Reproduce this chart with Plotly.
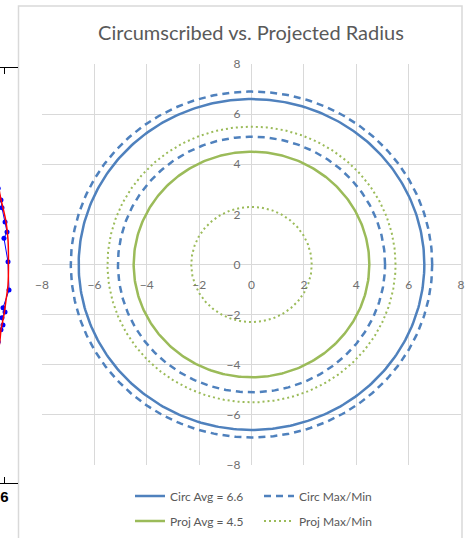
import numpy as np
import plotly.graph_objects as go

# ---- data ----
circ_avg = 6.6
circ_max = 6.9
circ_min = 5.1
proj_avg = 4.5
proj_max = 5.5
proj_min = 2.3

x_ticks = [-8, -6, -4, -2, 0, 2, 4, 6, 8]
y_ticks = [-8, -6, -4, -2, 0, 2, 4, 6, 8]

# fragment of neighbouring chart (left edge)
frag_red_x = [5.1, 5.5, 5.83, 6.17, 6.39, 6.44, 6.39, 6.17, 5.94, 5.61, 5.5, 5.2]
frag_red_y = [7.6, 6.94, 6.63, 6.29, 5.86, 5.37, 4.77, 4.41, 4.05, 3.69, 3.45, 3.0]
frag_blue_x = [5.3, 5.61, 5.72, 6.06, 6.28, 5.94, 6.39, 6.5, 5.83, 6.06, 5.72, 5.83, 5.61, 5.3]
frag_blue_y = [7.1, 6.82, 6.63, 6.29, 6.05, 5.90, 5.33, 4.65, 4.22, 4.12, 3.98, 3.81, 3.69, 3.4]

W, H = 471, 538
BLUE = "#4F81BD"
GREEN = "#9BBB59"
GRID = "#d9d9d9"
TXT = "#595959"
FONT = "Lato"

theta = np.linspace(0, 2 * np.pi, 361)


def circle(r):
    return r * np.cos(theta), r * np.sin(theta)


fig = go.Figure()

series = [
    (circ_avg, "Circ Avg = 6.6", BLUE, "solid", 2.5, "legend", True),
    (circ_max, "Circ Max/Min", BLUE, "7px,5px", 2.5, "legend", True),
    (circ_min, "Circ Max/Min", BLUE, "7px,5px", 2.5, "legend", False),
    (proj_avg, "Proj Avg = 4.5", GREEN, "solid", 2.5, "legend2", True),
    (proj_max, "Proj Max/Min", GREEN, "2px,3px", 2, "legend2", True),
    (proj_min, "Proj Max/Min", GREEN, "2px,3px", 2, "legend2", False),
]
for r, name, col, dash, w, lg, show in series:
    cx, cy = circle(r)
    fig.add_trace(go.Scatter(
        x=cx, y=cy, mode="lines", name=name,
        line=dict(color=col, dash=dash, width=w),
        legend=lg, showlegend=show, hoverinfo="skip",
        xaxis="x", yaxis="y",
    ))

# fragment traces
fig.add_trace(go.Scatter(
    x=frag_blue_x, y=frag_blue_y, mode="lines+markers",
    line=dict(color="#0000ff", width=1), marker=dict(color="#0000ff", size=5, symbol="circle"),
    showlegend=False, xaxis="x2", yaxis="y2"))
fig.add_trace(go.Scatter(
    x=frag_red_x, y=frag_red_y, mode="lines", line=dict(color="#ff0000", width=1.5, shape="spline"),
    showlegend=False, xaxis="x2", yaxis="y2"))

px0, px1 = 42, 461
py0, py1 = 64, 465

fig.update_layout(
    width=W, height=H,
    margin=dict(l=0, r=0, t=0, b=0, autoexpand=False),
    paper_bgcolor="white", plot_bgcolor="white",
    font=dict(family=FONT, color=TXT),
    title=dict(text="Circumscribed vs. Projected Radius", x=251 / W, xanchor="center",
               y=1 - 33 / H, yanchor="middle",
               font=dict(family=FONT, size=20, color=TXT)),
    xaxis=dict(domain=[px0 / W, px1 / W], range=[-8, 8], tickvals=x_ticks,
               showgrid=True, gridcolor=GRID, gridwidth=1,
               zeroline=True, zerolinecolor=GRID, zerolinewidth=1,
               showline=False, ticks="", anchor="free", position=1 - 264.5 / H,
               tickfont=dict(size=12, color="#6f6f6f", family=FONT), ticklabelstandoff=11,
               fixedrange=True, automargin=False),
    yaxis=dict(domain=[1 - py1 / H, 1 - py0 / H], range=[-8, 8], tickvals=y_ticks,
               showgrid=True, gridcolor=GRID, gridwidth=1,
               zeroline=True, zerolinecolor=GRID, zerolinewidth=1,
               showline=False, ticks="", anchor="free", position=251.5 / W,
               tickfont=dict(size=12, color="#6f6f6f", family=FONT), ticklabelstandoff=11,
               fixedrange=True, automargin=False),
    xaxis2=dict(domain=[0, 18 / W], range=[5.5, 7.5], tickvals=[6], ticktext=["6"],
                showline=True, linecolor="black", linewidth=1, mirror="ticks",
                ticks="inside", ticklen=6, tickcolor="black",
                showgrid=False, zeroline=False, anchor="y2", automargin=False,
                tickfont=dict(size=15, color="black", family="Liberation Sans", weight="bold")),
    yaxis2=dict(domain=[1 - 483 / H, 1 - 68 / H], range=[0, 10], visible=False,
                showgrid=False, zeroline=False, anchor="x2", automargin=False),
    legend=dict(orientation="h", x=130 / W, xanchor="left", y=1 - 496 / H, yanchor="middle",
                entrywidth=84, entrywidthmode="pixels", bgcolor="rgba(0,0,0,0)",
                font=dict(size=12, color=TXT, family=FONT), itemwidth=30,
                tracegroupgap=0),
    legend2=dict(orientation="h", x=130 / W, xanchor="left", y=1 - 521 / H, yanchor="middle",
                 entrywidth=84, entrywidthmode="pixels", bgcolor="rgba(0,0,0,0)",
                 font=dict(size=12, color=TXT, family=FONT), itemwidth=30,
                 tracegroupgap=0),
    shapes=[dict(type="rect", xref="paper", yref="paper",
                 x0=18.5 / W, x1=462 / W, y0=-0.02, y1=1 - 6 / H,
                 line=dict(color="#d9d9d9", width=1.5), layer="below")],
    showlegend=True,
)

fig.write_html("out.html")
